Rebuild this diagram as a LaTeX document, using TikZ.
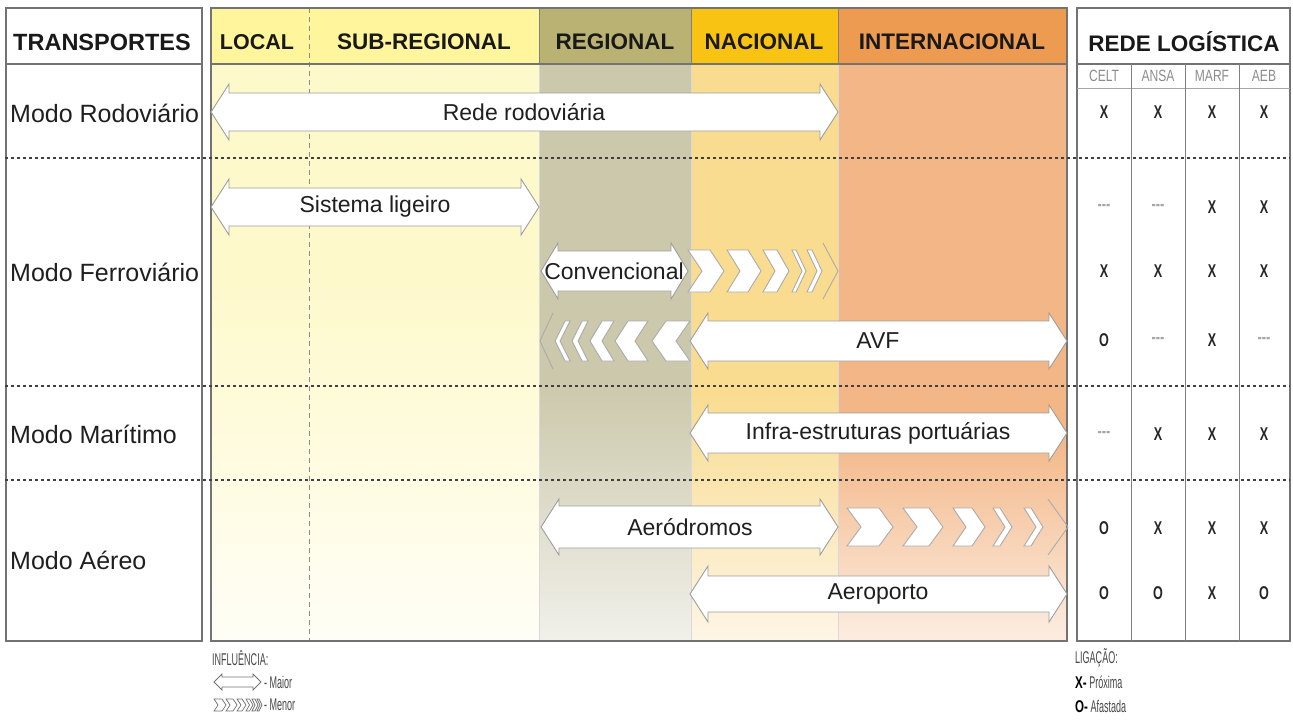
\documentclass[tikz,border=0pt]{standalone}
\usepackage{fontspec}
\setmainfont{Liberation Sans}
\newfontfamily\narrowA[FakeStretch=0.74]{Liberation Sans}
\newfontfamily\narrowB[FakeStretch=0.53]{Liberation Sans}
\newfontfamily\narrowBold[FakeStretch=0.68]{Liberation Sans Bold}
\definecolor{hdrY}{HTML}{FEF59C}
\definecolor{bodyY}{HTML}{FEF9CB}
\definecolor{botY}{HTML}{FFFEF6}
\definecolor{hdrR}{HTML}{BAB273}
\definecolor{bodyR}{HTML}{CCC8AB}
\definecolor{botR}{HTML}{F1F0EA}
\definecolor{hdrN}{HTML}{F8C313}
\definecolor{bodyN}{HTML}{F9DC8F}
\definecolor{botN}{HTML}{FDF5E6}
\definecolor{hdrI}{HTML}{EE9B52}
\definecolor{bodyI}{HTML}{F3B686}
\definecolor{botI}{HTML}{FCEDE1}
\newcommand{\dblshape}[6]{%
  \draw[arr] (#1,#3) -- (#1+#6,#3-#4) -- (#1+#6,#3-#5) -- (#2-#6,#3-#5) -- (#2-#6,#3-#4) -- (#2,#3)
   -- (#2-#6,#3+#4) -- (#2-#6,#3+#5) -- (#1+#6,#3+#5) -- (#1+#6,#3+#4) -- cycle;}
\newcommand{\chevR}[5]{%
  \draw[chev] (#1,#4-#5) -- (#1+#2-#3,#4-#5) -- (#1+#2,#4) -- (#1+#2-#3,#4+#5) -- (#1,#4+#5) -- (#1+#3,#4) -- cycle;}
\newcommand{\chevL}[5]{%
  \draw[chev] (#1+#2,#4-#5) -- (#1+#3,#4-#5) -- (#1,#4) -- (#1+#3,#4+#5) -- (#1+#2,#4+#5) -- (#1+#2-#3,#4) -- cycle;}
\newcommand{\nd}{{\fontsize{19}{19}\selectfont\color{black!35}-{}-{}-}}
\begin{document}
\begin{tikzpicture}[x=1pt,y=-1pt,
  arr/.style={fill=white,draw=black!38,line width=0.9pt,line join=miter},
  chev/.style={fill=white,draw=black!33,line width=0.9pt},
  chevline/.style={draw=black!33,line width=0.9pt},
  boxline/.style={draw=black!55,line width=1.4pt},
  sep/.style={draw=black!75,line width=1.3pt,dash pattern=on 2.6pt off 3.4pt},
  hdr/.style={font=\fontsize{22.5}{24}\selectfont\bfseries,text=black!90},
  mode/.style={font=\fontsize{25}{27}\selectfont,text=black!88,anchor=west,inner sep=0pt},
  lab/.style={font=\fontsize{23}{25}\selectfont,text=black!88,inner sep=0pt},
  val/.style={font=\narrowBold\fontsize{18.5}{20}\selectfont,text=black!85},
  sub/.style={font=\narrowA\fontsize{16.3}{18}\selectfont,text=black!45},
  leg/.style={font=\narrowB\fontsize{17}{18}\selectfont,text=black!72,anchor=west,inner sep=0pt},
]
\useasboundingbox (0,0) rectangle (1293,720);
% header backgrounds
\fill[hdrY] (211,8) rectangle (539,64);
\fill[hdrR] (539,8) rectangle (691,64);
\fill[hdrN] (691,8) rectangle (838,64);
\fill[hdrI] (838,8) rectangle (1067,64);
% body backgrounds
\fill[bodyY] (211,64) rectangle (539,280);
\shade[top color=bodyY,bottom color=botY] (211,280) rectangle (539,641);
\fill[bodyR] (539,64) rectangle (691,380);
\shade[top color=bodyR,bottom color=botR] (539,380) rectangle (691,641);
\fill[bodyN] (691,64) rectangle (838,390);
\shade[top color=bodyN,bottom color=botN] (691,390) rectangle (838,641);
\fill[bodyI] (838,64) rectangle (1067,430);
\shade[top color=bodyI,bottom color=botI] (838,430) rectangle (1067,641);
% dividers
\draw[black!15,line width=0.6pt] (539,64)--(539,641) (691,64)--(691,641) (838,64)--(838,641);
\draw[black!50,line width=1pt] (539,8)--(539,64) (691,8)--(691,64) (838,8)--(838,64);
\draw[black!45,line width=0.9pt,dash pattern=on 5pt off 4pt] (309,8)--(309,641);
% boxes
\draw[boxline] (6,8) rectangle (202,641);
\draw[boxline] (211,8) rectangle (1067,641);
\draw[boxline] (1077,8) rectangle (1290,641);
\draw[black!55,line width=1.2pt] (6,64)--(202,64) (211,64)--(1067,64) (1077,64)--(1290,64);
\draw[black!35,line width=0.8pt] (1077,88)--(1290,88);
\draw[black!50,line width=1pt] (1131,64)--(1131,641) (1185,64)--(1185,641) (1239,64)--(1239,641);
% separators
\draw[sep] (5,158)--(1290,158);
\draw[sep] (5,386)--(1290,386);
\draw[sep] (5,480)--(1290,480);
% headers
\node[hdr,font=\fontsize{23.5}{25}\selectfont\bfseries] (tr) at (102,42) {TRANSPORTES};
\node[hdr,font=\fontsize{21.5}{24}\selectfont\bfseries] (loc) at (257,42) {LOCAL};
\node[hdr] (subr) at (424,42) {SUB-REGIONAL};
\node[hdr] (reg) at (615,42) {REGIONAL};
\node[hdr] (nac) at (764,42) {NACIONAL};
\node[hdr] (int) at (952,42) {INTERNACIONAL};
\node[hdr] (rede) at (1184,42) {REDE LOGÍSTICA};
\node[sub] (celt) at (1104,76) {CELT};
\node[sub] (ansa) at (1158,76) {ANSA};
\node[sub] (marf) at (1212,76) {MARF};
\node[sub] (aeb) at (1264,76) {AEB};
% modes
\node[mode] (m1) at (10,113) {Modo Rodoviário};
\node[mode] (m2) at (10,272) {Modo Ferroviário};
\node[mode] (m3) at (10,434) {Modo Marítimo};
\node[mode] (m4) at (10,560) {Modo Aéreo};
% arrows
\dblshape{211}{838}{112}{28}{19}{18}
\node[lab] (a1) at (524,112) {Rede rodoviária};
\dblshape{211}{539}{207}{28}{19}{18}
\node[lab] (a2) at (375,207) {Sistema ligeiro};
\dblshape{541}{688}{271}{28}{20}{17}
\node[lab] (a3) at (614,271) {Convencional};
\foreach \x/\w/\d in {688/36/14, 727/34/13, 763/26/12, 792/14/10, 807/15/10}
  {\chevR{\x}{\w}{\d}{271}{21}}
\draw[chevline] (823,243) -- (838,271) -- (823,299);
\foreach \x/\w/\d in {652/38/14, 615/33/13, 590/24/12, 572/16/10, 555/15/10}
  {\chevL{\x}{\w}{\d}{341}{20}}
\draw[chevline] (553,313) -- (540,341) -- (553,369);
\dblshape{690}{1067}{341}{28}{20}{18}
\node[lab] (a4) at (878,341) {AVF};
\dblshape{690}{1067}{433}{28}{20}{18}
\node[lab] (a5) at (878,433) {Infra-estruturas portuárias};
\dblshape{541}{838}{527}{28}{21}{18}
\node[lab] (a6) at (690,527) {Aeródromos};
\foreach \x/\w/\d in {847/46/14, 903/40/14, 953/32/13, 993/19/12, 1024/19/12}
  {\chevR{\x}{\w}{\d}{527}{19}}
\draw[chevline] (1048,499) -- (1068,527) -- (1048,555);
\dblshape{690}{1067}{594}{28}{18}{18}
\node[lab] (a7) at (878,594) {Aeroporto};
% table values
\foreach \y/\a/\b/\c/\d in {112/X/X/X/X, 207/\nd/\nd/X/X, 271/X/X/X/X, 340/O/\nd/X/\nd,
   434/\nd/X/X/X, 528/O/X/X/X, 593/O/O/X/O}
{
  \node[val] (v-\y-1) at (1104,\y) {\a};
  \node[val] (v-\y-2) at (1158,\y) {\b};
  \node[val] (v-\y-3) at (1212,\y) {\c};
  \node[val] (v-\y-4) at (1264,\y) {\d};
}
% legend left
\node[leg] (infl) at (212,658) {INFLUÊNCIA:};
\begin{scope}[arr/.style={fill=white,draw=black!55,line width=0.8pt},chev/.style={fill=white,draw=black!55,line width=0.7pt}]
\dblshape{214}{261}{682}{8}{5}{8}
\foreach \x/\w/\d in {214/12/4, 226/11/4, 237/9/4, 246/7/3.5, 252/6/3, 257/5/3}
  {\chevR{\x}{\w}{\d}{705}{6}}
\end{scope}
\node[leg] (maior) at (264,682) {- Maior};
\node[leg] (menor) at (264,705) {- Menor};
% legend right
\node[leg] (lig) at (1075,658) {LIGAÇÃO:};
\node[leg] (prox) at (1075,682) {\textcolor{black}{\narrowBold X-} Próxima};
\node[leg] (afa) at (1075,706) {\textcolor{black}{\narrowBold O-} Afastada};
\end{tikzpicture}
\end{document}
